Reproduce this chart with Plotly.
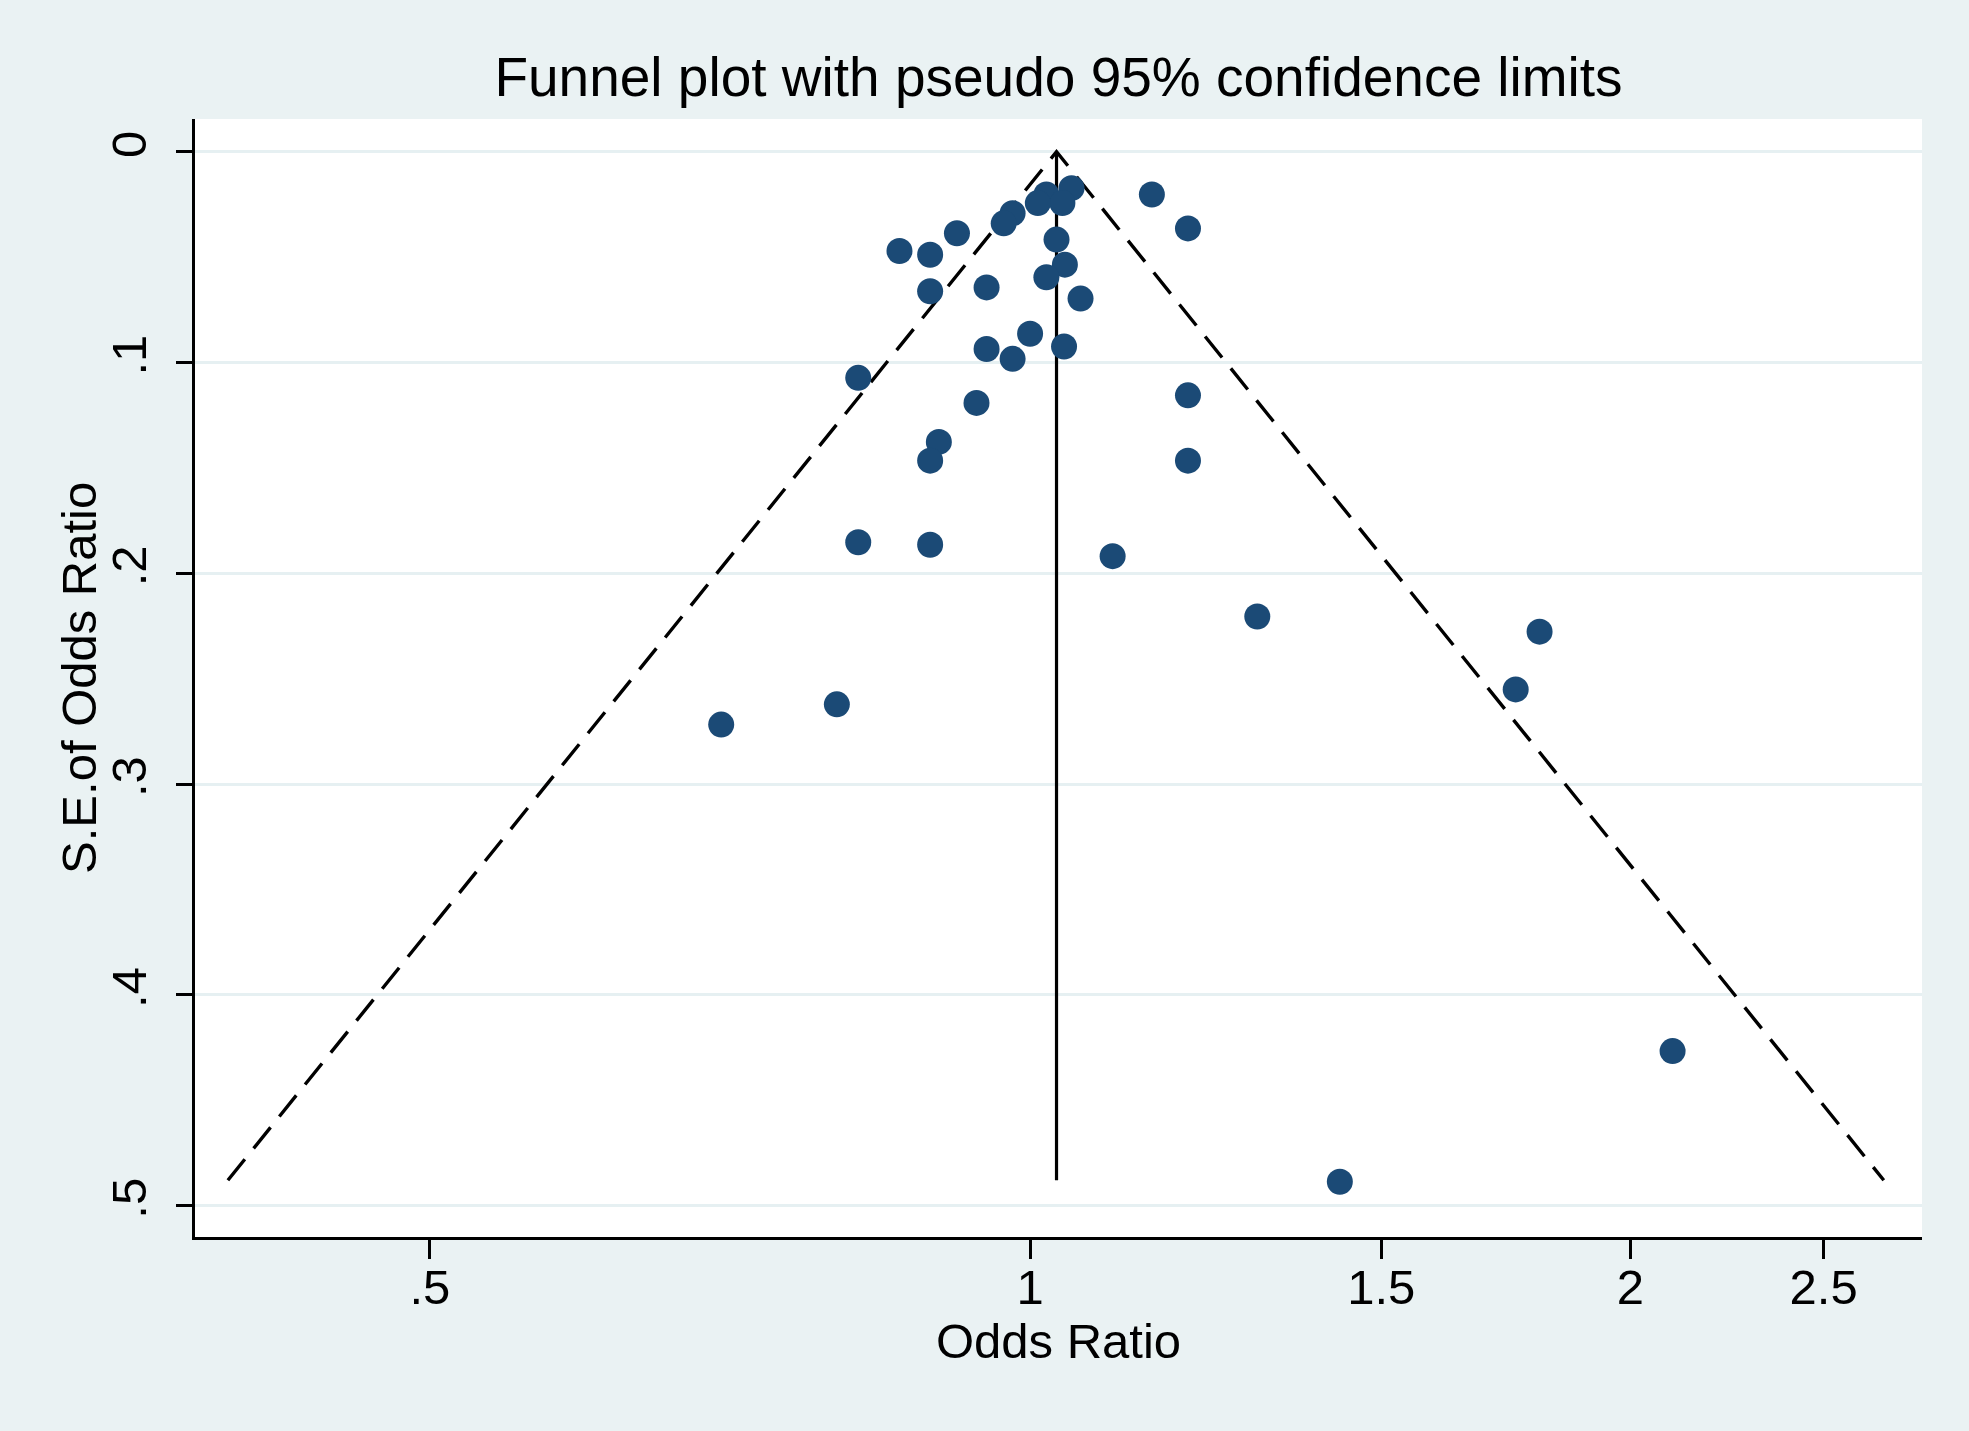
import plotly.graph_objects as go

# Study-level data
odds_ratio = [1.151, 1.200, 1.049, 1.019, 1.038, 1.009, 0.980, 0.970, 0.919, 1.031,
              0.860, 0.891, 1.041, 1.019, 0.951, 0.891, 1.060, 1.000, 0.951, 1.040,
              0.980, 0.820, 1.200, 0.940, 0.900, 0.891, 1.200, 0.820, 0.891, 1.100,
              1.300, 1.801, 1.752, 0.800, 0.700, 2.100, 1.430]
se_odds_ratio = [0.0203, 0.0364, 0.0173, 0.0203, 0.0244, 0.0244, 0.0292, 0.0340, 0.0387, 0.0417,
                 0.0471, 0.0489, 0.0536, 0.0596, 0.0644, 0.0662, 0.0697, 0.0864, 0.0936, 0.0924,
                 0.0983, 0.1073, 0.1156, 0.1192, 0.1377, 0.1466, 0.1466, 0.1853, 0.1865, 0.1919,
                 0.2205, 0.2277, 0.2551, 0.2622, 0.2718, 0.4267, 0.4887]

# Pooled estimate and pseudo 95% limits
pooled_or = 1.031
funnel_se_max = 0.488
funnel_lower_or = 0.396
funnel_upper_or = 2.68

x_tick_vals = [0.5, 1, 1.5, 2, 2.5]
x_tick_text = [".5", "1", "1.5", "2", "2.5"]
y_tick_vals = [0, 0.1, 0.2, 0.3, 0.4, 0.5]
y_tick_text = ["0", ".1", ".2", ".3", ".4", ".5"]

FONT = "Liberation Sans, Arial, sans-serif"
BG = "#EAF2F3"
NAVY = "#1B4A76"

fig = go.Figure()

fig.add_trace(go.Scatter(
    x=[funnel_lower_or, pooled_or, funnel_upper_or],
    y=[funnel_se_max, 0, funnel_se_max],
    mode="lines",
    line=dict(color="black", width=3.4, dash="27px,14px"),
    hoverinfo="skip", showlegend=False,
))
fig.add_trace(go.Scatter(
    x=[pooled_or, pooled_or],
    y=[0, funnel_se_max],
    mode="lines",
    line=dict(color="black", width=3.2),
    hoverinfo="skip", showlegend=False,
))
fig.add_trace(go.Scatter(
    x=odds_ratio, y=se_odds_ratio,
    mode="markers",
    marker=dict(size=26, color=NAVY, line=dict(width=0)),
    showlegend=False,
))

fig.update_layout(
    width=1969, height=1431,
    paper_bgcolor=BG, plot_bgcolor="white",
    margin=dict(l=195, r=47, t=119, b=194),
    font=dict(family=FONT, color="black", size=48),
    title=dict(text="Funnel plot with pseudo 95% confidence limits",
               x=0.5, xref="paper", y=1 - 77 / 1431, yref="container",
               xanchor="center", yanchor="middle",
               font=dict(size=55, family=FONT, color="black")),
    showlegend=False,
    annotations=[dict(
        text="S.E.of Odds Ratio", textangle=-90,
        xref="paper", yref="paper", x=-0.0672, y=0.5,
        xanchor="center", yanchor="middle", showarrow=False,
        font=dict(size=49, family=FONT, color="black"),
    )],
)

fig.update_xaxes(
    type="log",
    range=[-0.4188, 0.4473],
    tickvals=x_tick_vals, ticktext=x_tick_text,
    ticks="outside", ticklen=19, tickwidth=3, tickcolor="black",
    ticklabelstandoff=-14,
    showline=True, linecolor="black", linewidth=3,
    showgrid=False, zeroline=False,
    tickfont=dict(size=49),
    title=dict(text="Odds Ratio", font=dict(size=49), standoff=10),
)
fig.update_yaxes(
    range=[0.5149, -0.0155],
    tickvals=y_tick_vals, ticktext=y_tick_text,
    tickangle=-90,
    ticks="outside", ticklen=16, tickwidth=3, tickcolor="black",
    ticklabelstandoff=10,
    showline=True, linecolor="black", linewidth=3,
    showgrid=True, gridcolor="#E6F0F2", gridwidth=2.5,
    zeroline=False,
    tickfont=dict(size=49),
)

fig.write_html(
    "out.html",
    config={"displayModeBar": False},
    post_script="document.body.style.margin='0';document.body.style.overflow='hidden';",
)
